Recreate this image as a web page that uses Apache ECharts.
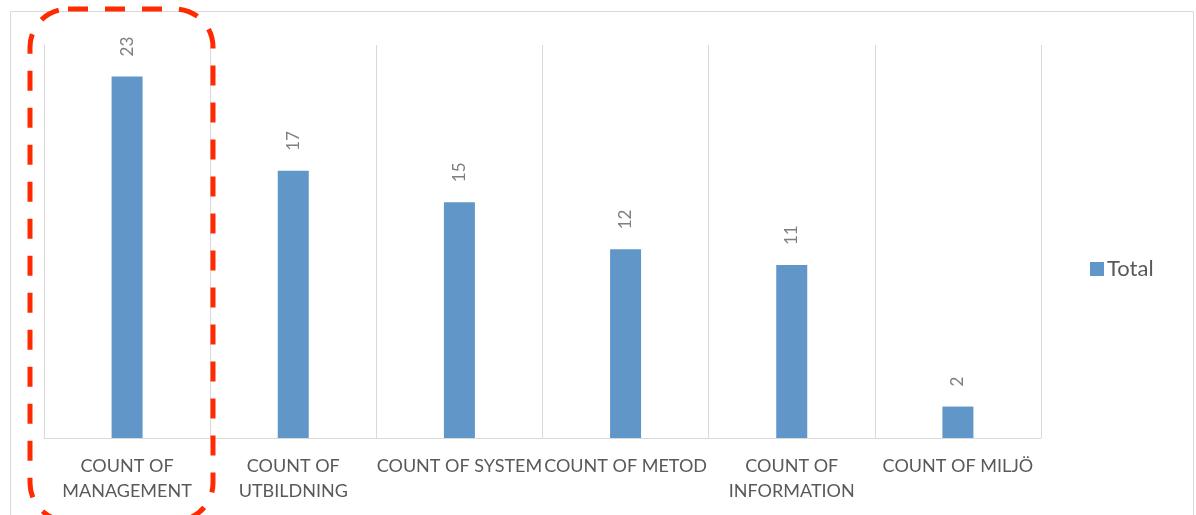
<!DOCTYPE html>
<html>
<head>
<meta charset="utf-8">
<script src="https://cdn.jsdelivr.net/npm/echarts@6/dist/echarts.min.js"></script>
<style>
  html, body { margin: 0; padding: 0; background: #fff; }
  #chart { width: 1196px; height: 515px; }
</style>
</head>
<body>
<div id="chart"></div>
<script>
const categories = [
  "COUNT OF\nMANAGEMENT",
  "COUNT OF\nUTBILDNING",
  "COUNT OF SYSTEM",
  "COUNT OF METOD",
  "COUNT OF\nINFORMATION",
  "COUNT OF MILJÖ"
]
const totals = [23, 17, 15, 12, 11, 2]
const seriesName = "Total"

const textColor = "#595959"
const lineColor = "#d9d9d9"
const font = "Lato, 'Open Sans', sans-serif"

const chart = echarts.init(document.getElementById("chart"))
chart.setOption({
  animation: false,
  textStyle: { fontFamily: font },
  grid: { left: 44, right: 155, top: 45, bottom: 77 },
  legend: {
    data: [seriesName],
    orient: "vertical",
    left: 1085,
    top: 253,
    itemWidth: 14,
    itemHeight: 14,
    icon: "rect",
    textStyle: { color: textColor, fontSize: 22, fontFamily: font, padding: [0, 0, 0, -2] }
  },
  xAxis: {
    type: "category",
    data: categories,
    axisLine: { lineStyle: { color: lineColor, width: 1 } },
    axisTick: { show: false },
    splitLine: { show: true, lineStyle: { color: lineColor, width: 1 } },
    axisLabel: {
      interval: 0,
      color: textColor,
      fontSize: 18,
      lineHeight: 25,
      margin: 16,
      fontFamily: font
    }
  },
  yAxis: {
    type: "value",
    min: 0,
    max: 25,
    interval: 5,
    axisLine: { show: true, lineStyle: { color: lineColor, width: 1 } },
    axisTick: { show: false },
    axisLabel: { show: false },
    splitLine: { show: false }
  },
  series: [
    {
      name: seriesName,
      type: "bar",
      data: totals,
      barWidth: 31,
      itemStyle: { color: "#6096c8" },
      label: {
        show: true,
        position: "top",
        rotate: 90,
        align: "left",
        verticalAlign: "middle",
        distance: 20,
        color: "#7f7f7f",
        fontSize: 17,
        fontFamily: font
      }
    }
  ],
  graphic: [
    {
      type: "rect",
      silent: true,
      shape: { x: 10.5, y: 11.5, width: 1183, height: 530 },
      style: { fill: null, stroke: lineColor, lineWidth: 1 }
    },
    {
      type: "rect",
      silent: true,
      z: 100,
      shape: { x: 30, y: 9, width: 183, height: 512, r: 38 },
      style: { fill: null, stroke: "#ff2a00", lineWidth: 5, lineDash: [20, 17] }
    }
  ]
})
</script>
</body>
</html>
